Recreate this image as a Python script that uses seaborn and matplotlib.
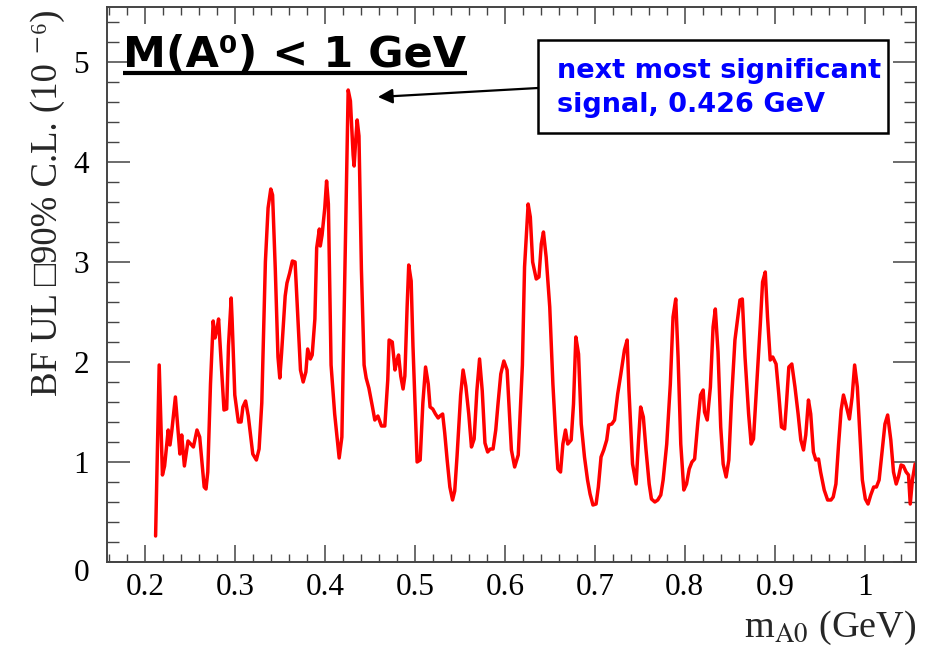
import matplotlib
matplotlib.use("Agg")
import matplotlib.pyplot as plt
import numpy as np
import pandas as pd
import seaborn as sns
from matplotlib.ticker import FixedLocator, FixedFormatter, MultipleLocator
from matplotlib.patches import Rectangle
from matplotlib.lines import Line2D
from matplotlib.transforms import ScaledTranslation

# Upper limit on the branching fraction (90% C.L., units of 1e-6) vs. A0 mass hypothesis
mass_gev = [
    0.212, 0.216, 0.2196, 0.222, 0.226, 0.228, 0.230, 0.234, 0.239, 0.241,
    0.244, 0.248, 0.254, 0.258, 0.261, 0.266, 0.268, 0.270, 0.273, 0.276,
    0.278, 0.280, 0.282, 0.285, 0.288, 0.291, 0.293, 0.296, 0.297, 0.300,
    0.304, 0.307, 0.309, 0.312, 0.315, 0.320, 0.324, 0.327, 0.330, 0.334,
    0.337, 0.340, 0.342, 0.345, 0.348, 0.350, 0.352, 0.356, 0.358, 0.361,
    0.364, 0.367, 0.370, 0.373, 0.376, 0.379, 0.381, 0.384, 0.386, 0.389,
    0.391, 0.394, 0.395, 0.397, 0.400, 0.402, 0.404, 0.407, 0.411, 0.414,
    0.416, 0.419, 0.422, 0.426, 0.4285, 0.4315, 0.4326, 0.4344, 0.436, 0.438,
    0.4407, 0.4437, 0.446, 0.449, 0.453, 0.4556, 0.459, 0.463, 0.4667, 0.470,
    0.4715, 0.475, 0.478, 0.480, 0.482, 0.4844, 0.487, 0.489, 0.4915, 0.4933,
    0.496, 0.498, 0.5007, 0.5026, 0.506, 0.509, 0.512, 0.515, 0.517, 0.520,
    0.523, 0.526, 0.528, 0.531, 0.5333, 0.536, 0.539, 0.542, 0.5444, 0.547,
    0.551, 0.5537, 0.5567, 0.560, 0.563, 0.566, 0.569, 0.572, 0.575, 0.578,
    0.581, 0.584, 0.587, 0.590, 0.5926, 0.5956, 0.599, 0.6026, 0.6074, 0.611,
    0.615, 0.6196, 0.622, 0.626, 0.6284, 0.631, 0.635, 0.638, 0.6406, 0.643,
    0.646, 0.650, 0.6535, 0.6565, 0.659, 0.662, 0.6646, 0.6675, 0.670, 0.6738,
    0.6764, 0.679, 0.682, 0.685, 0.6886, 0.692, 0.6948, 0.698, 0.7015, 0.704,
    0.707, 0.710, 0.7133, 0.7155, 0.719, 0.722, 0.7255, 0.729, 0.733, 0.736,
    0.738, 0.742, 0.746, 0.7487, 0.751, 0.754, 0.757, 0.7605, 0.763, 0.7668,
    0.770, 0.7734, 0.776, 0.780, 0.784, 0.787, 0.790, 0.7926, 0.7956, 0.799,
    0.802, 0.805, 0.808, 0.811, 0.8146, 0.8176, 0.8205, 0.822, 0.825, 0.8285,
    0.8315, 0.834, 0.837, 0.840, 0.8427, 0.846, 0.849, 0.852, 0.8558, 0.859,
    0.8614, 0.864, 0.867, 0.871, 0.8738, 0.8764, 0.880, 0.884, 0.8865, 0.8895,
    0.892, 0.895, 0.8978, 0.9015, 0.9045, 0.9075, 0.911, 0.913, 0.9157, 0.919,
    0.9225, 0.926, 0.929, 0.932, 0.9345, 0.9375, 0.940, 0.943, 0.9457, 0.9487,
    0.951, 0.955, 0.9588, 0.9625, 0.965, 0.968, 0.971, 0.9738, 0.9764, 0.979,
    0.983, 0.986, 0.9888, 0.9918, 0.9944, 0.9974, 1.0007, 1.0037, 1.0067, 1.010,
    1.013, 1.016, 1.0187, 1.0225, 1.0255, 1.029, 1.032, 1.035, 1.0375, 1.0404,
    1.043, 1.046, 1.0487, 1.0506, 1.053, 1.056,
]
bf_ul = [
    0.26, 1.97, 0.87, 0.96, 1.32, 1.17, 1.31, 1.65, 1.08, 1.27,
    0.96, 1.21, 1.15, 1.32, 1.25, 0.75, 0.73, 0.90, 1.78, 2.41,
    2.24, 2.32, 2.43, 1.97, 1.52, 1.53, 2.16, 2.64, 2.43, 1.67,
    1.40, 1.40, 1.55, 1.61, 1.46, 1.08, 1.02, 1.13, 1.59, 3.00,
    3.54, 3.73, 3.67, 2.93, 2.05, 1.84, 2.09, 2.66, 2.79, 2.89,
    3.01, 3.00, 2.47, 1.92, 1.80, 1.90, 2.13, 2.03, 2.07, 2.43,
    3.14, 3.33, 3.16, 3.27, 3.54, 3.81, 3.58, 1.97, 1.48, 1.21,
    1.04, 1.25, 2.74, 4.72, 4.61, 4.07, 3.96, 4.22, 4.42, 4.26,
    2.93, 1.97, 1.84, 1.74, 1.55, 1.42, 1.46, 1.36, 1.36, 1.82,
    2.22, 2.20, 1.92, 2.01, 2.07, 1.86, 1.73, 1.86, 2.55, 2.97,
    2.81, 2.16, 1.48, 1.00, 1.02, 1.59, 1.95, 1.78, 1.55, 1.53,
    1.48, 1.44, 1.46, 1.48, 1.29, 1.02, 0.75, 0.62, 0.71, 1.06,
    1.67, 1.92, 1.76, 1.48, 1.15, 1.23, 1.71, 2.03, 1.71, 1.19,
    1.10, 1.13, 1.13, 1.32, 1.59, 1.88, 2.01, 1.92, 1.12, 0.95,
    1.07, 1.97, 2.95, 3.58, 3.45, 3.00, 2.83, 2.85, 3.18, 3.30,
    3.05, 2.55, 1.78, 1.28, 0.93, 0.90, 1.18, 1.32, 1.18, 1.22,
    1.58, 2.25, 2.08, 1.38, 1.05, 0.82, 0.68, 0.57, 0.58, 0.75,
    1.05, 1.12, 1.22, 1.37, 1.38, 1.42, 1.68, 1.88, 2.12, 2.22,
    1.72, 0.98, 0.78, 1.22, 1.55, 1.45, 1.12, 0.78, 0.63, 0.60,
    0.62, 0.67, 0.82, 1.18, 1.78, 2.45, 2.63, 2.05, 1.18, 0.72,
    0.78, 0.93, 1.00, 1.03, 1.40, 1.67, 1.72, 1.50, 1.42, 1.75,
    2.35, 2.53, 2.10, 1.35, 0.98, 0.85, 1.02, 1.62, 2.22, 2.45,
    2.62, 2.63, 2.05, 1.48, 1.18, 1.23, 1.78, 2.38, 2.80, 2.90,
    2.45, 2.02, 2.05, 1.98, 1.68, 1.35, 1.33, 1.58, 1.95, 1.98,
    1.75, 1.48, 1.22, 1.12, 1.27, 1.62, 1.48, 1.10, 1.02, 1.03,
    0.90, 0.72, 0.62, 0.62, 0.65, 0.78, 1.18, 1.52, 1.67, 1.58,
    1.43, 1.65, 1.97, 1.75, 1.32, 0.82, 0.63, 0.58, 0.67, 0.75,
    0.75, 0.82, 1.05, 1.38, 1.47, 1.22, 0.90, 0.78, 0.85, 0.97,
    0.96, 0.90, 0.87, 0.58, 0.82, 0.98,
]

x_ticks = [0.2, 0.3, 0.4, 0.5, 0.6, 0.7, 0.8, 0.9, 1.0]
x_tick_labels = ["0.2", "0.3", "0.4", "0.5", "0.6", "0.7", "0.8", "0.9", "1"]
y_ticks = [0, 1, 2, 3, 4, 5]
y_tick_labels = ["0", "1", "2", "3", "4", "5"]

title_text = "M(A\u2070) < 1 GeV"
note_lines = ["next most significant", "signal, 0.426 GeV"]
signal_mass = 0.459
signal_level = 4.65

sns.set_theme(style="ticks")
plt.rcParams["font.family"] = ["Liberation Serif", "DejaVu Sans"]
plt.rcParams["mathtext.fontset"] = "stix"

W, H = 933, 649
fig = plt.figure(figsize=(W / 100, H / 100), dpi=100)
fig.patch.set_facecolor("white")
ax = fig.add_axes([107 / W, 87 / H, 809 / W, 555 / H])
ax.set_facecolor("white")

df = pd.DataFrame({"mass": mass_gev, "ul": bf_ul})
sns.lineplot(data=df, x="mass", y="ul", ax=ax, color="#ff0000",
             linewidth=2.5, estimator=None, sort=False)

ax.set_xlim(0.158, 1.057)
ax.set_ylim(0, 5.55)

ax.xaxis.set_major_locator(FixedLocator(x_ticks))
ax.xaxis.set_major_formatter(FixedFormatter(x_tick_labels))
ax.xaxis.set_minor_locator(MultipleLocator(0.02))
ax.yaxis.set_major_locator(FixedLocator(y_ticks))
ax.yaxis.set_major_formatter(FixedFormatter(y_tick_labels))
ax.yaxis.set_minor_locator(MultipleLocator(0.2))

frame_col = "#444444"
for sp in ax.spines.values():
    sp.set_color(frame_col)
    sp.set_linewidth(1.4)
    sp.set_visible(True)

ax.tick_params(axis="x", which="major", direction="in", top=True, bottom=True,
               length=12, width=1.1, color=frame_col, labelsize=22.5, pad=8,
               labelcolor="black")
ax.tick_params(axis="x", which="minor", direction="in", top=True, bottom=True,
               length=6, width=1.0, color=frame_col)
ax.tick_params(axis="y", which="major", direction="in", left=True, right=True,
               length=16.5, width=1.1, color=frame_col, labelsize=22.5, pad=13,
               labelcolor="black")
ax.tick_params(axis="y", which="minor", direction="in", left=True, right=True,
               length=8.5, width=1.0, color=frame_col)

ax.set_xlabel(r"m$_{\mathrm{A0}}$ (GeV)", fontsize=27.5, loc="right")
ax.xaxis.label.set_va("baseline")
ax.xaxis.set_label_coords(1.0, -0.135)
ax.set_ylabel("BF UL \u25a190% C.L. (10 \u207b\u2076)", fontsize=26.5, loc="top")
ax.yaxis.set_label_coords(-0.052, 0.995)

# headline with underline
ax.text(0.0198, 0.892, title_text, transform=ax.transAxes,
        fontsize=31, fontweight="bold", family=["DejaVu Sans"],
        ha="left", va="baseline", color="black", zorder=5)
ax.add_line(Line2D([0.0198, (467 - 107) / 809], [0.881, 0.881],
                   transform=ax.transAxes, color="black", linewidth=3.0,
                   solid_capstyle="butt", zorder=5))

# annotation box
box_x0, box_x1 = (538 - 107) / 809, (888 - 107) / 809
box_y0, box_y1 = (562 - 133) / 555, (562 - 40) / 555
ax.add_patch(Rectangle((box_x0, box_y0), box_x1 - box_x0, box_y1 - box_y0,
                       transform=ax.transAxes, facecolor="white",
                       edgecolor="black", linewidth=1.8, zorder=6))
ax.text((557 - 107) / 809, (562 - 78) / 555, note_lines[0], transform=ax.transAxes,
        fontsize=19.5, fontweight="bold", family=["DejaVu Sans"], color="#0000ff",
        ha="left", va="baseline", zorder=7)
ax.text((557 - 107) / 809, (562 - 112) / 555, note_lines[1], transform=ax.transAxes,
        fontsize=19.5, fontweight="bold", family=["DejaVu Sans"], color="#0000ff",
        ha="left", va="baseline", zorder=7)

ax.annotate("", xy=(signal_mass, signal_level),
            xytext=(box_x0, (562 - 88) / 555), textcoords="axes fraction",
            arrowprops=dict(arrowstyle="-|>", color="black", lw=1.6,
                            mutation_scale=22, shrinkA=0, shrinkB=0),
            zorder=6)

# the zero label sits slightly below its tick
fig.canvas.draw()
zero_tick = ax.yaxis.get_major_ticks()[0]
zero_tick.label1.set_transform(zero_tick.label1.get_transform()
                               + ScaledTranslation(0, -8 / 100, fig.dpi_scale_trans))

fig.savefig("out.png", dpi=100, facecolor="white")
